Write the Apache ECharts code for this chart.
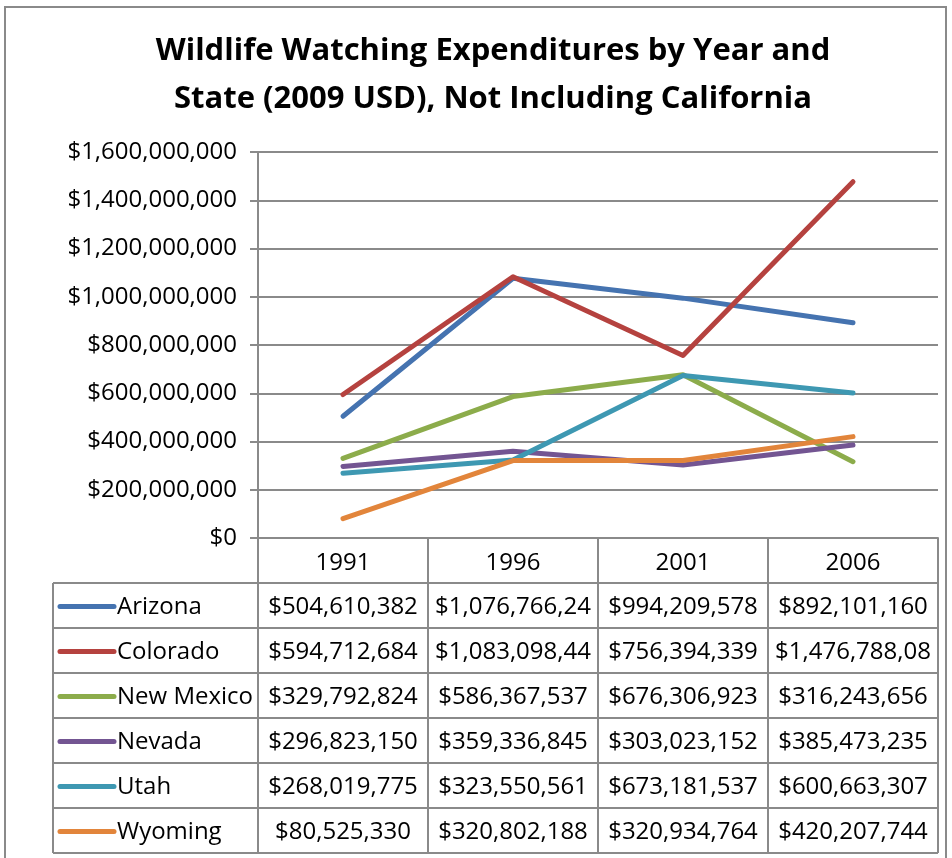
<!DOCTYPE html>
<html><head><meta charset="utf-8">
<script src="https://cdn.jsdelivr.net/npm/echarts@6/dist/echarts.min.js"></script>
<style>html,body{margin:0;padding:0;background:#fff}#c{width:952px;height:858px}</style>
</head><body><div id="c"></div>
<script>
const years = ['1991', '1996', '2001', '2006'];
const states = ['Arizona', 'Colorado', 'New Mexico', 'Nevada', 'Utah', 'Wyoming'];
const arizona   = [504610382, 1076766240, 994209578, 892101160];
const colorado  = [594712684, 1083098440, 756394339, 1476788080];
const newMexico = [329792824, 586367537, 676306923, 316243656];
const nevada    = [296823150, 359336845, 303023152, 385473235];
const utah      = [268019775, 323550561, 673181537, 600663307];
const wyoming   = [80525330, 320802188, 320934764, 420207744];
const yTicks = [0, 200000000, 400000000, 600000000, 800000000, 1000000000, 1200000000, 1400000000, 1600000000];
const colors = ['#4573B0', '#B5423F', '#8CAC4B', '#735592', '#3E98B2', '#E2853B'];
const seriesData = [arizona, colorado, newMexico, nevada, utah, wyoming];

const FONT = 'Open Sans';
const FS = 24;
const fmt = v => '$' + Math.round(v).toLocaleString('en-US');

const G = {left: 258, top: 152, width: 680, height: 386};
const rowH = 45, tableLeft = 53, headerH = 45;
const bandW = G.width / years.length;
const lineCol = '#8a8a8a';

const graphic = [];
graphic.push({type: 'rect', shape: {x: 5, y: 7, width: 941, height: 870}, style: {fill: 'none', stroke: '#8a8a8a', lineWidth: 2}, silent: true});
const tableTop = G.top + G.height + headerH;
const tableBottom = tableTop + rowH * states.length;
for (let k = 0; k <= states.length; k++) {
  const y = tableTop + rowH * k;
  graphic.push({type: 'line', shape: {x1: tableLeft, y1: y, x2: G.left + G.width, y2: y}, style: {stroke: lineCol, lineWidth: 2}, silent: true});
}
graphic.push({type: 'line', shape: {x1: tableLeft, y1: tableTop, x2: tableLeft, y2: tableBottom}, style: {stroke: lineCol, lineWidth: 2}, silent: true});
for (let j = 0; j <= years.length; j++) {
  const x = G.left + bandW * j;
  graphic.push({type: 'line', shape: {x1: x, y1: G.top + G.height, x2: x, y2: tableBottom}, style: {stroke: lineCol, lineWidth: 2}, silent: true});
}
states.forEach((s, i) => {
  const cy = tableTop + rowH * i + rowH / 2 + 2;
  graphic.push({type: 'line', shape: {x1: 60, y1: cy - 1, x2: 114, y2: cy - 1}, style: {stroke: colors[i], lineWidth: 5, lineCap: 'round'}, silent: true});
  graphic.push({type: 'text', x: 117, y: cy, style: {text: s, font: `${FS}px "${FONT}"`, fill: '#000', textAlign: 'left', textVerticalAlign: 'middle'}, silent: true});
  seriesData[i].forEach((v, j) => {
    const cx = G.left + bandW * j + bandW / 2;
    graphic.push({type: 'text', x: cx, y: cy, style: {text: fmt(v), font: `${FS}px "${FONT}"`, fill: '#000', textAlign: 'center', textVerticalAlign: 'middle', width: bandW - 6, overflow: 'truncate', ellipsis: ''}, silent: true});
  });
});

const chart = echarts.init(document.getElementById('c'));
chart.setOption({
  animation: false,
  backgroundColor: '#fff',
  title: {
    text: 'Wildlife Watching Expenditures by Year and\nState (2009 USD), Not Including California',
    left: 488, top: 22, textAlign: 'center',
    textStyle: {fontFamily: FONT, fontWeight: 'bold', fontSize: 31, lineHeight: 48, color: '#000'}
  },
  grid: {left: G.left, top: G.top, width: G.width, height: G.height, containLabel: false},
  xAxis: {
    type: 'category', data: years, boundaryGap: true,
    axisLine: {lineStyle: {color: lineCol, width: 2}},
    axisTick: {show: false},
    axisLabel: {fontFamily: FONT, fontSize: FS, color: '#000', margin: 13}
  },
  yAxis: {
    type: 'value', min: yTicks[0], max: yTicks[yTicks.length - 1], interval: yTicks[1] - yTicks[0],
    axisLine: {show: true, lineStyle: {color: lineCol, width: 2}},
    axisTick: {show: true, length: 8, lineStyle: {color: lineCol, width: 2}},
    splitLine: {lineStyle: {color: lineCol, width: 2}},
    axisLabel: {fontFamily: FONT, fontSize: FS, color: '#000', margin: 21, formatter: v => fmt(v)}
  },
  series: states.map((s, i) => ({
    name: s, type: 'line', data: seriesData[i], showSymbol: false, symbol: 'none',
    lineStyle: {color: colors[i], width: 5, cap: 'round', join: 'round'},
    itemStyle: {color: colors[i]}
  })),
  graphic: graphic
});
</script></body></html>
